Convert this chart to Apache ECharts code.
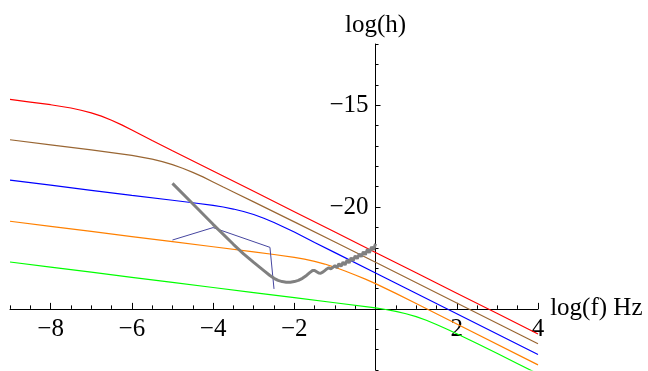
<!DOCTYPE html>
<html><head><meta charset="utf-8">
<script src="https://cdn.jsdelivr.net/npm/echarts@6/dist/echarts.min.js"></script>
<style>html,body{margin:0;padding:0;background:#fff}#c{width:648px;height:371px}</style>
</head><body><div id="c"></div>
<script>
// log10(f) [Hz] vs log10(h)
const redCurve = [[-9,-14.72],[-8.5,-14.85],[-8,-14.98],[-7.5,-15.14],[-7.25,-15.25],[-7,-15.38],[-6.75,-15.54],[-6.5,-15.74],[-6.25,-15.97],[-6,-16.22],[-5.75,-16.48],[-5.5,-16.74],[-5,-17.24],[-4,-18.23],[-3,-19.23],[-2,-20.23],[-1,-21.23],[0,-22.23],[1,-23.23],[2,-24.23],[3,-25.23],[4,-26.23]];
const brownCurve = [[-9,-16.7],[-8,-16.95],[-7,-17.2],[-6,-17.47],[-5.5,-17.65],[-5.25,-17.77],[-5,-17.92],[-4.75,-18.1],[-4.5,-18.3],[-4.25,-18.52],[-4,-18.77],[-3.75,-19.02],[-3.5,-19.26],[-3,-19.75],[-2,-20.73],[-1,-21.72],[0,-22.71],[2,-24.71],[4,-26.71]];
const blueCurve = [[-9,-18.68],[-8,-18.93],[-7,-19.18],[-6,-19.43],[-5,-19.67],[-4.5,-19.79],[-4,-19.92],[-3.75,-20.0],[-3.5,-20.1],[-3.25,-20.22],[-3,-20.37],[-2.75,-20.55],[-2.5,-20.76],[-2.25,-20.99],[-2,-21.23],[-1.5,-21.74],[-1,-22.24],[0,-23.24],[2,-25.24],[4,-27.24]];
const orangeCurve = [[-9,-20.7],[-8,-20.95],[-7,-21.2],[-6,-21.45],[-5,-21.7],[-4,-21.95],[-3,-22.2],[-2.5,-22.33],[-2,-22.47],[-1.75,-22.56],[-1.5,-22.67],[-1.25,-22.8],[-1,-22.96],[-0.75,-23.14],[-0.5,-23.34],[-0.25,-23.54],[0,-23.76],[0.5,-24.24],[1,-24.74],[2,-25.74],[4,-27.75]];
const greenCurve = [[-9,-22.7],[-8,-22.95],[-7,-23.2],[-6,-23.45],[-5,-23.7],[-4,-23.95],[-3,-24.2],[-2,-24.45],[-1,-24.7],[0,-24.95],[0.25,-25.03],[0.5,-25.12],[0.75,-25.24],[1,-25.38],[1.25,-25.56],[1.5,-25.77],[1.75,-25.99],[2,-26.22],[2.5,-26.7],[3,-27.19],[3.5,-27.69],[4,-28.19]];
const grayCurve = [[-5.0,-18.84],[-4.5,-19.84],[-4.0,-20.85],[-3.5,-21.83],[-3.25,-22.3],[-3.0,-22.72],[-2.75,-23.12],[-2.6,-23.36],[-2.5,-23.5],[-2.4,-23.6],[-2.3,-23.66],[-2.2,-23.69],[-2.1,-23.69],[-2.0,-23.66],[-1.9,-23.6],[-1.8,-23.5],[-1.7,-23.36],[-1.62,-23.22],[-1.55,-23.12],[-1.5,-23.12],[-1.45,-23.18],[-1.4,-23.24],[-1.35,-23.25],[-1.3,-23.2],[-1.25,-23.12],[-1.2,-23.04],[-1.15,-22.98],[-1.1,-23.04],[-1.05,-22.96],[-1.0,-22.88],[-0.95,-22.98],[-0.9,-22.78],[-0.85,-22.92],[-0.8,-22.7],[-0.75,-22.84],[-0.7,-22.6],[-0.65,-22.74],[-0.6,-22.5],[-0.55,-22.64],[-0.5,-22.4],[-0.45,-22.54],[-0.4,-22.3],[-0.35,-22.44],[-0.3,-22.2],[-0.25,-22.34],[-0.2,-22.08],[-0.15,-22.24],[-0.1,-21.96],[-0.05,-22.1],[0,-21.8]];
const purpleCurve = [[-5,-21.62],[-4,-21.01],[-2.6,-21.98],[-2.5,-24.02]];

const xMinorTicks = [-9,-8.5,-8,-7.5,-7,-6.5,-6,-5.5,-5,-4.5,-4,-3.5,-3,-2.5,-2,-1.5,-1,-0.5,0.5,1,1.5,2,2.5,3,3.5,4];
const xMajorTicks = [-8,-6,-4,-2,2,4];
const xTickLabels = [-8,-6,-4,-2,2,4];
const yMinorTicks = [-28,-27,-26,-24,-23,-22,-21,-20,-19,-18,-17,-16,-15,-14,-13,-12];
const yMajorTicks = [-20,-15];
const yTickLabels = [-20,-15];

const FONT = 'Liberation Serif';
const fmt = v => String(v).replace('-', '\u2212');
const X0 = -9, X1 = 4, Y0 = -28, Y1 = -12, YCROSS = -25, XCROSS = 0;
const G = {left: 10, right: 110, top: 44, bottom: 1};
const W = 648, H = 371;
const gw = W - G.left - G.right, gh = H - G.top - G.bottom;
const xOff = -((YCROSS - Y0) / (Y1 - Y0) * gh);
const yOff = -((XCROSS - X0) / (X1 - X0) * gw);

const chart = echarts.init(document.getElementById('c'), null, {renderer: 'canvas'});
const line = (data, color, width) => ({
  type: 'line', data, xAxisIndex: 0, yAxisIndex: 0, showSymbol: false, symbol: 'none',
  smooth: false, lineStyle: {color, width}, itemStyle: {color}, z: 3
});
chart.setOption({
  animation: false,
  backgroundColor: '#fff',
  grid: G,
  xAxis: [{
    type: 'value', min: X0, max: X1, position: 'bottom', offset: xOff,
    axisLine: {onZero: false, lineStyle: {color: '#000', width: 1}},
    axisTick: {inside: true, length: 3.5, customValues: xMinorTicks, lineStyle: {color: '#000'}},
    axisLabel: {customValues: xTickLabels, formatter: fmt, margin: 8, color: '#000', fontFamily: FONT, fontSize: 25},
    splitLine: {show: false},
    name: 'log(f) Hz', nameLocation: 'end', nameGap: 12,
    nameTextStyle: {color: '#000', fontFamily: FONT, fontSize: 25, verticalAlign: 'middle'}
  }, {
    type: 'value', min: X0, max: X1, position: 'bottom', offset: xOff,
    axisLine: {show: false, onZero: false},
    axisTick: {inside: true, length: 6, customValues: xMajorTicks, lineStyle: {color: '#000'}},
    axisLabel: {show: false}, splitLine: {show: false}
  }],
  yAxis: [{
    type: 'value', min: Y0, max: Y1, position: 'left', offset: yOff,
    axisLine: {onZero: false, lineStyle: {color: '#000', width: 1}},
    axisTick: {inside: true, length: 3, customValues: yMinorTicks, lineStyle: {color: '#000'}},
    axisLabel: {customValues: yTickLabels, formatter: fmt, margin: 7, color: '#000', fontFamily: FONT, fontSize: 25},
    splitLine: {show: false},
    name: 'log(h)', nameLocation: 'end', nameGap: 6,
    nameTextStyle: {color: '#000', fontFamily: FONT, fontSize: 25, align: 'center', verticalAlign: 'bottom'}
  }, {
    type: 'value', min: Y0, max: Y1, position: 'left', offset: yOff,
    axisLine: {show: false, onZero: false},
    axisTick: {inside: true, length: 5, customValues: yMajorTicks, lineStyle: {color: '#000'}},
    axisLabel: {show: false}, splitLine: {show: false}
  }],
  series: [
    line(redCurve, '#ff0000', 1.2),
    line(brownCurve, '#996633', 1.2),
    line(blueCurve, '#0000ff', 1.2),
    line(orangeCurve, '#ff8000', 1.2),
    line(greenCurve, '#00ff00', 1.2),
    line(purpleCurve, '#4646a0', 1),
    line(grayCurve, '#808080', 3)
  ]
});
</script></body></html>
